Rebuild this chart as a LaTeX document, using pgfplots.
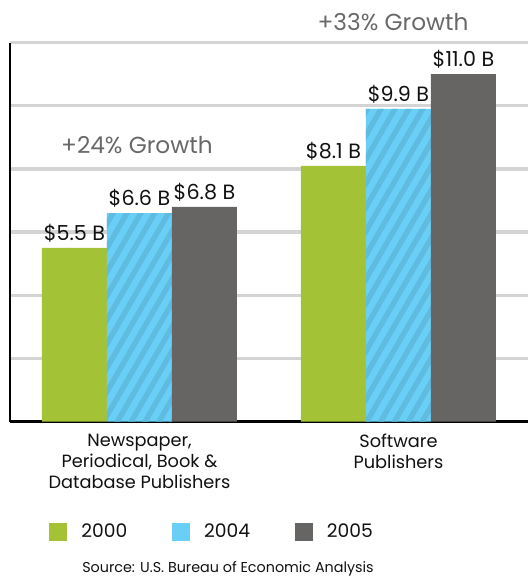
\documentclass[border=0pt]{standalone}
\usepackage{fontspec}
\setmainfont{Poppins}
\usepackage{pgfplots}
\pgfplotsset{compat=1.18}
\usetikzlibrary{patterns.meta}
\definecolor{c2000}{HTML}{A3C235}
\definecolor{c2004}{HTML}{6ACFF6}
\definecolor{c2004s}{HTML}{5FBCE0}
\definecolor{c2005}{HTML}{666564}
\definecolor{gridc}{HTML}{D4D4D4}
\definecolor{growthc}{HTML}{686868}
\definecolor{txt}{HTML}{111111}

\begin{document}
\begin{tikzpicture}
\useasboundingbox (-7.5pt,-116.5pt) rectangle (388.5pt,316.3pt);
\begin{axis}[
  scale only axis, width=388.5pt, height=284.4pt,
  xmin=-0.5, xmax=1.5, ymin=0, ymax=12,
  axis x line=bottom, axis y line=left,
  axis line style={line width=2pt, -, black},
  xtick={0,1},
  xticklabels={{Newspaper,\\Periodical, Book \&\\Database Publishers},{Software\\Publishers}},
  xticklabel style={align=center, text=txt, font=\fontsize{13.3}{15.5}\selectfont, yshift=-6pt},
  ytick={2,4,...,12}, yticklabels={},
  major tick length=0pt,
  ymajorgrids, grid style={gridc, line width=2.6pt},
  ybar=0pt, bar width=48.75pt,
  clip=false,
  nodes near coords, point meta=explicit symbolic,
  every node near coord/.append style={font=\fontsize{15.5}{18}\selectfont, anchor=base, yshift=5.5pt, text=txt},
  legend columns=3,
  legend style={draw=none, fill=none, at={(0.0753,-0.29)}, anchor=west, inner sep=0pt,
    font=\fontsize{14}{16}\selectfont, text=txt,
    /tikz/every odd column/.append style={column sep=9pt},
    /tikz/every even column/.append style={column sep=31.5pt}},
]
\addlegendimage{legend image code/.code={\fill[c2000] (0pt,-6.4pt) rectangle (12.75pt,6.4pt);}}
\addlegendentry{2000}
\addlegendimage{legend image code/.code={\fill[c2004] (0pt,-6.4pt) rectangle (12.75pt,6.4pt);}}
\addlegendentry{2004}
\addlegendimage{legend image code/.code={\fill[c2005] (0pt,-6.4pt) rectangle (12.75pt,6.4pt);}}
\addlegendentry{2005}

\addplot[fill=c2000, draw=none, bar shift=-48.75pt, forget plot]
  coordinates {(0,5.5) [\$5.5 B] (1,8.1) [\$8.1 B]};
\addplot[fill=c2004, draw=none, bar shift=0pt, forget plot,
  postaction={pattern={Lines[angle=60,distance=9pt,line width=4pt]}, pattern color=c2004s}]
  coordinates {(0,6.6) [\$6.6 B] (1,9.9) [\$9.9 B]};
\addplot[fill=c2005, draw=none, bar shift=48.75pt, forget plot]
  coordinates {(0,6.8) [\$6.8 B] (1,11.0) [\$11.0 B]};

\node[anchor=base, text=growthc, font=\fontsize{17.4}{20}\selectfont] at (axis cs:-0.01,8.5) {+24\% Growth};
\node[anchor=base, text=growthc, font=\fontsize{17.4}{20}\selectfont] at (axis cs:0.979,12.38) {+33\% Growth};
\node[anchor=base west, inner sep=0pt, text=txt, font=\fontsize{10.75}{13}\selectfont] at (rel axis cs:0.139,-0.397) {Source: U.S. Bureau of Economic Analysis};
\end{axis}
\end{tikzpicture}
\end{document}
